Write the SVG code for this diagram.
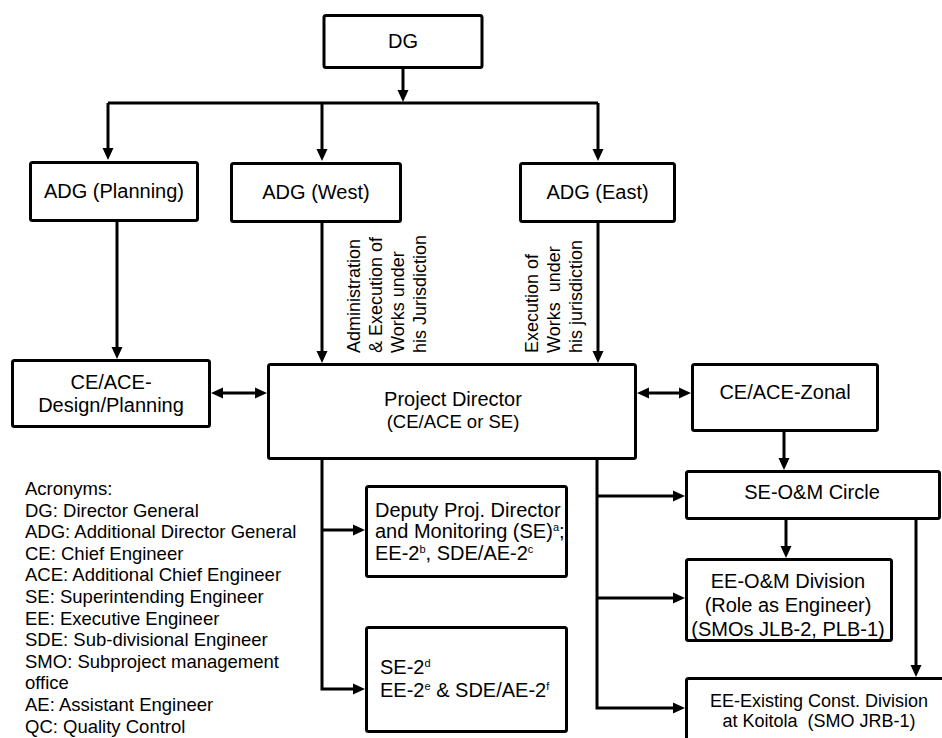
<svg xmlns="http://www.w3.org/2000/svg" width="942" height="738" viewBox="0 0 942 738">
<style>
  .box{fill:#fff;stroke:#000;stroke-width:3}
  .ln{fill:none;stroke:#000;stroke-width:3}
  .ar{marker-end:url(#ah)}
  .da{marker-start:url(#ah);marker-end:url(#ah)}
  text{font-family:"Liberation Sans",Arial,Helvetica,sans-serif;fill:#000}
  .c{text-anchor:middle;font-size:20px}
  .l{font-size:20px}
  .s18{font-size:18px}
  .acr{font-size:18.5px}
  .sup{font-size:11px}
</style>
<defs>
  <marker id="ah" markerUnits="userSpaceOnUse" markerWidth="12" markerHeight="12" viewBox="0 0 12 12" refX="8" refY="6" orient="auto-start-reverse">
    <path d="M0,0.5 L12,6 L0,11.5 Z" fill="#000"/>
  </marker>
</defs>
<rect width="942" height="738" fill="#fff"/>

<g id="connectors">
  <path class="ln ar" d="M403,69 V98"/>
  <path class="ln" d="M108,103 H598"/>
  <path class="ln ar" d="M108,103 V156"/>
  <path class="ln ar" d="M322,103 V157"/>
  <path class="ln ar" d="M598,103 V157"/>
  <path class="ln ar" d="M117,222 V355"/>
  <path class="ln ar" d="M322,223 V359"/>
  <path class="ln ar" d="M598,223 V359"/>
  <path class="ln da" d="M215,393 H263"/>
  <path class="ln da" d="M641,393 H687"/>
  <path class="ln ar" d="M784,432 V466"/>
  <path class="ln ar" d="M786,520 V554"/>
  <path class="ln ar" d="M916,520 V673"/>
  <path class="ln ar" d="M322,460 V689 H361"/>
  <path class="ln ar" d="M322,530 H361"/>
  <path class="ln ar" d="M597,460 V708 H681"/>
  <path class="ln ar" d="M597,496 H681"/>
  <path class="ln ar" d="M597,598 H681"/>
  <g id="west-label" class="s18">
    <text transform="translate(360,353) rotate(-90)">Administration</text>
    <text transform="translate(382,353) rotate(-90)">&amp; Execution of</text>
    <text transform="translate(404,353) rotate(-90)">Works under</text>
    <text transform="translate(426,353) rotate(-90)">his Jurisdiction</text>
  </g>
  <g id="east-label" class="s18">
    <text transform="translate(538,353) rotate(-90)">Execution of</text>
    <text transform="translate(560,353) rotate(-90)" xml:space="preserve">Works  under</text>
    <text transform="translate(582,353) rotate(-90)">his jurisdiction</text>
  </g>
</g>

<g id="dg">
  <rect class="box" x="324" y="15.5" width="158" height="52" rx="2"/>
  <text class="c" x="403" y="48">DG</text>
</g>
<g id="adg-planning">
  <rect class="box" x="30.5" y="162.5" width="167" height="58" rx="2"/>
  <text class="c" x="114" y="198">ADG (Planning)</text>
</g>
<g id="adg-west">
  <rect class="box" x="231.5" y="163.5" width="169" height="58" rx="2"/>
  <text class="c" x="316" y="199">ADG (West)</text>
</g>
<g id="adg-east">
  <rect class="box" x="520.5" y="163.5" width="154" height="58" rx="2"/>
  <text class="c" x="597.5" y="199">ADG (East)</text>
</g>
<g id="ce-design">
  <rect class="box" x="12.5" y="360.5" width="197" height="66" rx="2"/>
  <text class="c" x="111" y="389">CE/ACE-</text>
  <text class="c" x="111" y="412">Design/Planning</text>
</g>
<g id="project-director">
  <rect class="box" x="268.5" y="364.5" width="367" height="94" rx="2"/>
  <text class="c" x="453" y="406">Project Director</text>
  <text class="c" x="453" y="428" style="font-size:18.5px">(CE/ACE or SE)</text>
</g>
<g id="ce-zonal">
  <rect class="box" x="692.5" y="364.5" width="185" height="66" rx="2"/>
  <text class="c" x="785" y="399">CE/ACE-Zonal</text>
</g>
<g id="se-om">
  <rect class="box" x="686.5" y="471.5" width="253" height="47" rx="2"/>
  <text class="c" x="812" y="499">SE-O&amp;M Circle</text>
</g>
<g id="ee-om">
  <rect class="box" x="686.5" y="559.5" width="205" height="81" rx="2"/>
  <text class="c" x="788" y="588">EE-O&amp;M Division</text>
  <text class="c" x="788" y="612">(Role as Engineer)</text>
  <text class="c" x="788" y="636">(SMOs JLB-2, PLB-1)</text>
</g>
<g id="ee-existing">
  <rect class="box" x="686.5" y="678.5" width="270" height="80" rx="2"/>
  <text class="c s18" x="819" y="707">EE-Existing Const. Division</text>
  <text class="c s18" x="819" y="727" xml:space="preserve">at Koitola  (SMO JRB-1)</text>
</g>
<g id="deputy">
  <rect class="box" x="366.5" y="486.5" width="200" height="90" rx="2"/>
  <text class="l" x="375" y="517">Deputy Proj. Director</text>
  <text class="l" x="375" y="538">and Monitoring (SE)<tspan class="sup" dy="-7">a</tspan><tspan dy="7">;</tspan></text>
  <text class="l" x="375" y="560">EE-2<tspan class="sup" dy="-7">b</tspan><tspan dy="7">, SDE/AE-2</tspan><tspan class="sup" dy="-7">c</tspan></text>
</g>
<g id="se2">
  <rect class="box" x="366.5" y="627.5" width="200" height="104" rx="2"/>
  <text class="l" x="380" y="674">SE-2<tspan class="sup" dy="-7">d</tspan></text>
  <text class="l" x="380" y="697">EE-2<tspan class="sup" dy="-7">e</tspan><tspan dy="7"> &amp; SDE/AE-2</tspan><tspan class="sup" dy="-7">f</tspan></text>
</g>
<g id="acronyms" class="acr">
  <text x="25" y="495">Acronyms:</text>
  <text x="25" y="516.6">DG: Director General</text>
  <text x="25" y="538.2">ADG: Additional Director General</text>
  <text x="25" y="559.8">CE: Chief Engineer</text>
  <text x="25" y="581.4">ACE: Additional Chief Engineer</text>
  <text x="25" y="603">SE: Superintending Engineer</text>
  <text x="25" y="624.6">EE: Executive Engineer</text>
  <text x="25" y="646.2">SDE: Sub-divisional Engineer</text>
  <text x="25" y="667.8">SMO: Subproject management</text>
  <text x="25" y="689.4">office</text>
  <text x="25" y="711">AE: Assistant Engineer</text>
  <text x="25" y="732.6">QC: Quality Control</text>
</g>
</svg>
